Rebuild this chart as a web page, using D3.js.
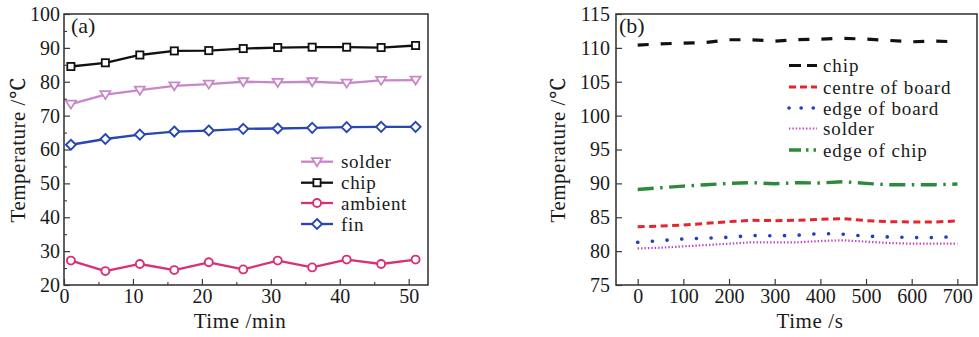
<!DOCTYPE html>
<html>
<head>
<meta charset="utf-8">
<script src="https://cdn.jsdelivr.net/npm/d3@7"></script>
<style>
  html, body { margin: 0; padding: 0; background: #fff; }
  svg { display: block; }
  svg text { font-family: "Liberation Serif", "Times New Roman", Times, "Noto Serif", "DejaVu Serif", serif; fill: #1a1a1a; }
</style>
</head>
<body>
<svg id="chart" width="979" height="337"></svg>
<script>
// (a) temperature vs. time in minutes
const timeMin = [1, 6, 11, 16, 21, 26, 31, 36, 41, 46, 51];
const solderA = [73.4, 76.2, 77.5, 78.8, 79.3, 80.0, 79.8, 80.0, 79.6, 80.4, 80.5];
const chipA = [84.5, 85.6, 87.9, 89.1, 89.2, 89.8, 90.1, 90.2, 90.2, 90.1, 90.7];
const ambientA = [27.2, 24.1, 26.2, 24.4, 26.7, 24.6, 27.2, 25.2, 27.5, 26.2, 27.5];
const finA = [61.4, 63.1, 64.4, 65.3, 65.6, 66.1, 66.2, 66.4, 66.6, 66.7, 66.7];
const ticksA_x = [0, 10, 20, 30, 40, 50];
const ticksA_y = [20, 30, 40, 50, 60, 70, 80, 90, 100];

// (b) temperature vs. time in seconds
const timeS = [0, 50, 100, 150, 200, 250, 300, 350, 400, 450, 500, 550, 600, 650, 700];
const chipB = [110.4, 110.6, 110.7, 110.8, 111.2, 111.2, 111.0, 111.2, 111.3, 111.4, 111.3, 111.1, 110.9, 111.0, 110.9];
const centreB = [83.6, 83.7, 83.85, 84.1, 84.35, 84.55, 84.5, 84.55, 84.7, 84.8, 84.5, 84.35, 84.3, 84.3, 84.45];
const edgeBoardB = [81.3, 81.55, 81.8, 81.9, 82.05, 82.3, 82.25, 82.35, 82.6, 82.5, 82.2, 82.1, 82.0, 82.0, 82.15];
const solderB = [80.4, 80.5, 80.7, 80.9, 81.1, 81.3, 81.3, 81.3, 81.5, 81.6, 81.4, 81.2, 81.1, 81.1, 81.1];
const edgeChipB = [89.1, 89.35, 89.6, 89.8, 90.0, 90.1, 89.95, 90.1, 90.05, 90.25, 90.0, 89.8, 89.8, 89.8, 89.9];
const ticksB_x = [0, 100, 200, 300, 400, 500, 600, 700];
const ticksB_y = [75, 80, 85, 90, 95, 100, 105, 110, 115];

const svg = d3.select("#chart");
const SERIF = "'Liberation Serif', 'Times New Roman', Times, 'Noto Serif', 'DejaVu Serif', serif";

function label(x, y, size, str) {
  return svg.append("text").attr("x", x).attr("y", y)
    .attr("font-family", SERIF).attr("font-size", size).text(str);
}

function frame(x0, x1, y0, y1) {
  svg.append("rect")
    .attr("x", x0).attr("y", y0)
    .attr("width", x1 - x0).attr("height", y1 - y0)
    .attr("fill", "none").attr("stroke", "#3a3a3a").attr("stroke-width", 1.6);
}

function axes(x, y, xt, yt, xMinor, yMinor, yPad) {
  const [x0] = x.range();
  const [y1] = y.range();
  const gx = svg.append("g").attr("transform", `translate(0,${y1})`)
    .call(d3.axisBottom(x).tickValues(xt).tickSize(-6).tickPadding(4));
  const gy = svg.append("g").attr("transform", `translate(${x0},0)`)
    .call(d3.axisLeft(y).tickValues(yt).tickSize(-6).tickPadding(yPad));
  [gx, gy].forEach(g => {
    g.attr("font-family", SERIF).attr("font-size", 20);
    g.select(".domain").remove();
    g.selectAll("line").attr("stroke", "#3a3a3a").attr("stroke-width", 1.2);
    g.selectAll("text").attr("fill", "#1a1a1a");
  });
  if (xMinor) {
    const g = svg.append("g").attr("transform", `translate(0,${y1})`)
      .call(d3.axisBottom(x).tickValues(xMinor).tickSize(-3).tickFormat(""));
    g.select(".domain").remove();
    g.selectAll("line").attr("stroke", "#3a3a3a").attr("stroke-width", 1.1);
  }
  if (yMinor) {
    const g = svg.append("g").attr("transform", `translate(${x0},0)`)
      .call(d3.axisLeft(y).tickValues(yMinor).tickSize(-3).tickFormat(""));
    g.select(".domain").remove();
    g.selectAll("line").attr("stroke", "#3a3a3a").attr("stroke-width", 1.1);
  }
}

function marker(g, type, cx, cy, color) {
  if (type === "square") {
    g.append("rect").attr("x", cx - 3.6).attr("y", cy - 3.6).attr("width", 7.2).attr("height", 7.2)
      .attr("fill", "#fff").attr("stroke", color).attr("stroke-width", 1.8);
  } else if (type === "circle") {
    g.append("circle").attr("cx", cx).attr("cy", cy).attr("r", 4)
      .attr("fill", "#fff").attr("stroke", color).attr("stroke-width", 1.9);
  } else if (type === "diamond") {
    g.append("path").attr("d", `M${cx},${cy - 5}L${cx + 5},${cy}L${cx},${cy + 5}L${cx - 5},${cy}Z`)
      .attr("fill", "#fff").attr("stroke", color).attr("stroke-width", 1.9);
  } else if (type === "tri") {
    g.append("path").attr("d", `M${cx - 5},${cy - 3.5}L${cx + 5},${cy - 3.5}L${cx},${cy + 4.5}Z`)
      .attr("fill", "#fff").attr("stroke", color).attr("stroke-width", 1.8);
  }
}

// ---------- panel (a) ----------
const xA = d3.scaleLinear().domain([0, 52.8]).range([64, 428]);
const yA = d3.scaleLinear().domain([20, 100]).range([285, 14]);

const seriesA = [
  { name: "solder", values: solderA, color: "#c987c9", m: "tri" },
  { name: "chip", values: chipA, color: "#111111", m: "square" },
  { name: "ambient", values: ambientA, color: "#d9307c", m: "circle" },
  { name: "fin", values: finA, color: "#2747b3", m: "diamond" }
];

const lineA = d3.line().x((d, i) => xA(timeMin[i])).y(d => yA(d));
seriesA.forEach(s => {
  const g = svg.append("g");
  g.append("path").attr("d", lineA(s.values)).attr("fill", "none")
    .attr("stroke", s.color).attr("stroke-width", 2.3).attr("stroke-linejoin", "round");
  s.values.forEach((v, i) => marker(g, s.m, xA(timeMin[i]), yA(v), s.color));
});

axes(xA, yA, ticksA_x, ticksA_y, [5, 15, 25, 35, 45], [25, 35, 45, 55, 65, 75, 85, 95], 4);
frame(64, 428, 14, 285);

label(71, 33, 22, "(a)");
label(240, 328, 21, "Time /min").attr("text-anchor", "middle").attr("letter-spacing", 0.6);
svg.append("text").attr("transform", "translate(25,150) rotate(-90)").attr("text-anchor", "middle")
  .attr("font-family", SERIF).attr("font-size", 21).attr("letter-spacing", 0.5).text("Temperature /℃");

// legend (a)
const legA = [161.7, 182.7, 203, 224];
seriesA.forEach((s, i) => {
  const g = svg.append("g");
  const cy = legA[i];
  g.append("line").attr("x1", 301).attr("x2", 333).attr("y1", cy).attr("y2", cy)
    .attr("stroke", s.color).attr("stroke-width", 2.3);
  marker(g, s.m, 317, cy, s.color);
  label(341, cy + 6.5, 19, s.name).attr("letter-spacing", 0.7);
});

// ---------- panel (b) ----------
const xB = d3.scaleLinear().domain([-47.5, 743]).range([616, 977]);
const yB = d3.scaleLinear().domain([75, 115]).range([285, 14]);

const seriesB = [
  { name: "chip", values: chipB, color: "#111111", w: 3.2, dash: "11,12", cap: "butt",
    legDash: "12,6", legCap: "butt" },
  { name: "centre of board", values: centreB, color: "#e4262c", w: 3, dash: "7,4.5", cap: "butt",
    legDash: "7,4", legCap: "butt" },
  { name: "edge of board", values: edgeBoardB, color: "#2340c0", w: 3.6, dash: "0.1,14.6", cap: "round",
    legDash: "0.1,12", legCap: "round" },
  { name: "solder", values: solderB, color: "#c43dc4", w: 2.2, dash: "1.4,2", cap: "butt",
    legDash: "1.4,2", legCap: "butt" },
  { name: "edge of chip", values: edgeChipB, color: "#2d8a3b", w: 3.4, dash: "16,6.5,2.5,6.5", cap: "butt",
    legDash: "12,5,2.5,5,2.5", legCap: "butt" }
];

const lineB = d3.line().x((d, i) => xB(timeS[i])).y(d => yB(d));
seriesB.forEach(s => {
  svg.append("path").attr("d", lineB(s.values)).attr("fill", "none")
    .attr("stroke", s.color).attr("stroke-width", s.w)
    .attr("stroke-dasharray", s.dash).attr("stroke-linecap", s.cap)
    .attr("stroke-linejoin", "round");
});

axes(xB, yB, ticksB_x, ticksB_y, null, null, 6);
frame(616, 977, 14, 285);

label(619, 33, 22, "(b)");
label(810, 328, 21, "Time /s").attr("text-anchor", "middle").attr("letter-spacing", 0.6);
svg.append("text").attr("transform", "translate(565,150) rotate(-90)").attr("text-anchor", "middle")
  .attr("font-family", SERIF).attr("font-size", 21).attr("letter-spacing", 0.5).text("Temperature /℃");

// legend (b)
const legB = [65.5, 87, 108, 128.5, 150];
seriesB.forEach((s, i) => {
  const cy = legB[i];
  svg.append("line").attr("x1", 789).attr("x2", 817).attr("y1", cy).attr("y2", cy)
    .attr("stroke", s.color).attr("stroke-width", s.w)
    .attr("stroke-dasharray", s.legDash).attr("stroke-linecap", s.legCap);
  label(823, cy + 6.5, 19, s.name).attr("letter-spacing", 0.9);
});
</script>
</body>
</html>
